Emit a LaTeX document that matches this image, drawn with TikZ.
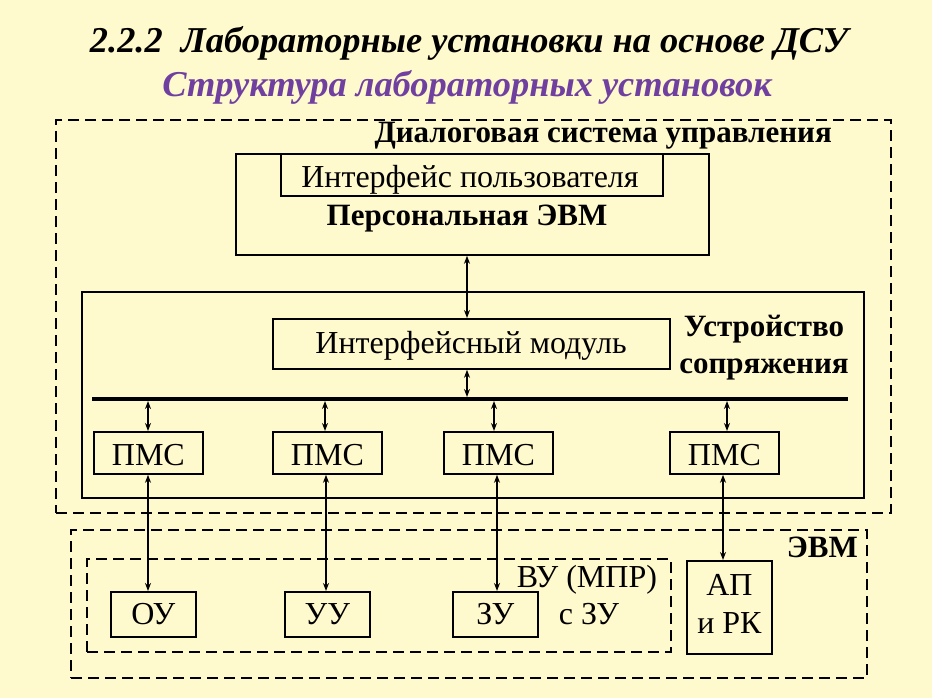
\documentclass[tikz,border=0pt]{standalone}
\usepackage{fontspec}
\setmainfont{Liberation Serif}
\usetikzlibrary{arrows.meta}
\definecolor{bgyellow}{RGB}{255,250,205}
\definecolor{titlepurple}{RGB}{112,64,160}
\begin{document}
\begin{tikzpicture}[x=1pt,y=-1pt,
  box/.style={draw=black,line width=1.8pt,anchor=north west,inner sep=0pt,minimum width=#1},
  dbox/.style={draw=black,line width=2pt,dash pattern=on 11pt off 6pt,anchor=north west,inner sep=0pt},
  txt/.style={inner sep=0pt,anchor=base,font=\fontsize{32}{36}\selectfont},
  btxt/.style={inner sep=0pt,anchor=base,font=\fontsize{31}{36}\selectfont\bfseries},
  link/.style={line width=1.5pt,{Stealth[length=8pt,width=6pt]}-{Stealth[length=8pt,width=6pt]}}
]
\fill[bgyellow] (0,0) rectangle (932,698);
\useasboundingbox (0,0) rectangle (932,698);

% titles
\node[inner sep=0pt,anchor=base,font=\fontsize{36.4}{40}\selectfont\bfseries\itshape] (title) at (469,53) {2.2.2\ \ Лабораторные установки на основе ДСУ};
\node[inner sep=0pt,anchor=base,text=titlepurple,font=\fontsize{36.4}{40}\selectfont\bfseries\itshape] (subtitle) at (467,97) {Структура лабораторных установок};

% dialog system group
\node[dbox,minimum width=835pt,minimum height=393pt] (dsu) at (55,119) {};
\node[btxt,anchor=base east] (dsulbl) at (832,143) {Диалоговая система управления};

% personal computer
\node[box=473pt,minimum height=101pt] (pc) at (235,153) {};
\node[box=382pt,minimum height=42pt] (ui) at (280,153) {};
\node[txt] (uitxt) at (470,188) {Интерфейс пользователя};
\node[btxt] (pctxt) at (467,225) {Персональная ЭВМ};

% interface device
\node[box=782pt,minimum height=206pt] (usp) at (81,291) {};
\node[box=397pt,minimum height=50pt] (im) at (272,318) {};
\node[txt] (imtxt) at (471,353) {Интерфейсный модуль};
\node[btxt] (usplbl1) at (764,336) {Устройство};
\node[btxt] (usplbl2) at (764,373) {сопряжения};

% bus
\coordinate (busL) at (92,399);
\coordinate (busR) at (848,399);
\draw[line width=4pt] (busL) -- (busR);

% PMC boxes
\node[box=109pt,minimum height=42pt] (p1) at (93,431) {};
\node[box=109pt,minimum height=42pt] (p2) at (272,431) {};
\node[box=109pt,minimum height=42pt] (p3) at (443,431) {};
\node[box=109pt,minimum height=42pt] (p4) at (669,431) {};
\node[txt] at (p1.center |- 0,465) {ПМС};
\node[txt] at (p2.center |- 0,465) {ПМС};
\node[txt] at (p3.center |- 0,465) {ПМС};
\node[txt] at (p4.center |- 0,465) {ПМС};

% computer group
\node[dbox,minimum width=796pt,minimum height=148pt] (evm) at (70,529) {};
\node[btxt,anchor=base east] (evmlbl) at (858,557) {ЭВМ};
\node[dbox,minimum width=584pt,minimum height=93pt] (vu) at (86,558) {};
\node[txt] (vulbl) at (587,587) {ВУ (МПР)};
\node[txt] (vulbl2) at (589,624) {с ЗУ};

\node[box=85pt,minimum height=45pt] (ou) at (110,591) {};
\node[box=85pt,minimum height=45pt] (uu) at (284,591) {};
\node[box=85pt,minimum height=45pt] (zu) at (452,591) {};
\node[box=85pt,minimum height=93pt] (ap) at (686,560) {};
\node[txt] at (ou.center |- 0,624) {ОУ};
\node[txt] at (uu.center |- 0,624) {УУ};
\node[txt] at (zu.center |- 0,624) {ЗУ};
\node[txt] at (ap.center |- 0,595) {АП};
\node[txt] at (ap.center |- 0,633) {и РК};

% connectors
\coordinate (b0) at (467,397);
\draw[link] (pc.south -| b0) -- (im.north -| b0);
\draw[link] (im.south -| b0) -- (b0);
\foreach \n/\xx in {p1/148,p2/325,p3/494,p4/727}{
  \draw[link] (\xx,401) -- (\n.north -| \xx,0);
}
\draw[link] (p1.south -| 148,0) -- (ou.north -| 148,0);
\draw[link] (p2.south -| 326,0) -- (uu.north -| 326,0);
\draw[link] (p3.south -| 497,0) -- (zu.north -| 497,0);
\draw[link] (p4.south -| 723,0) -- (ap.north -| 723,0);
\end{tikzpicture}
\end{document}
